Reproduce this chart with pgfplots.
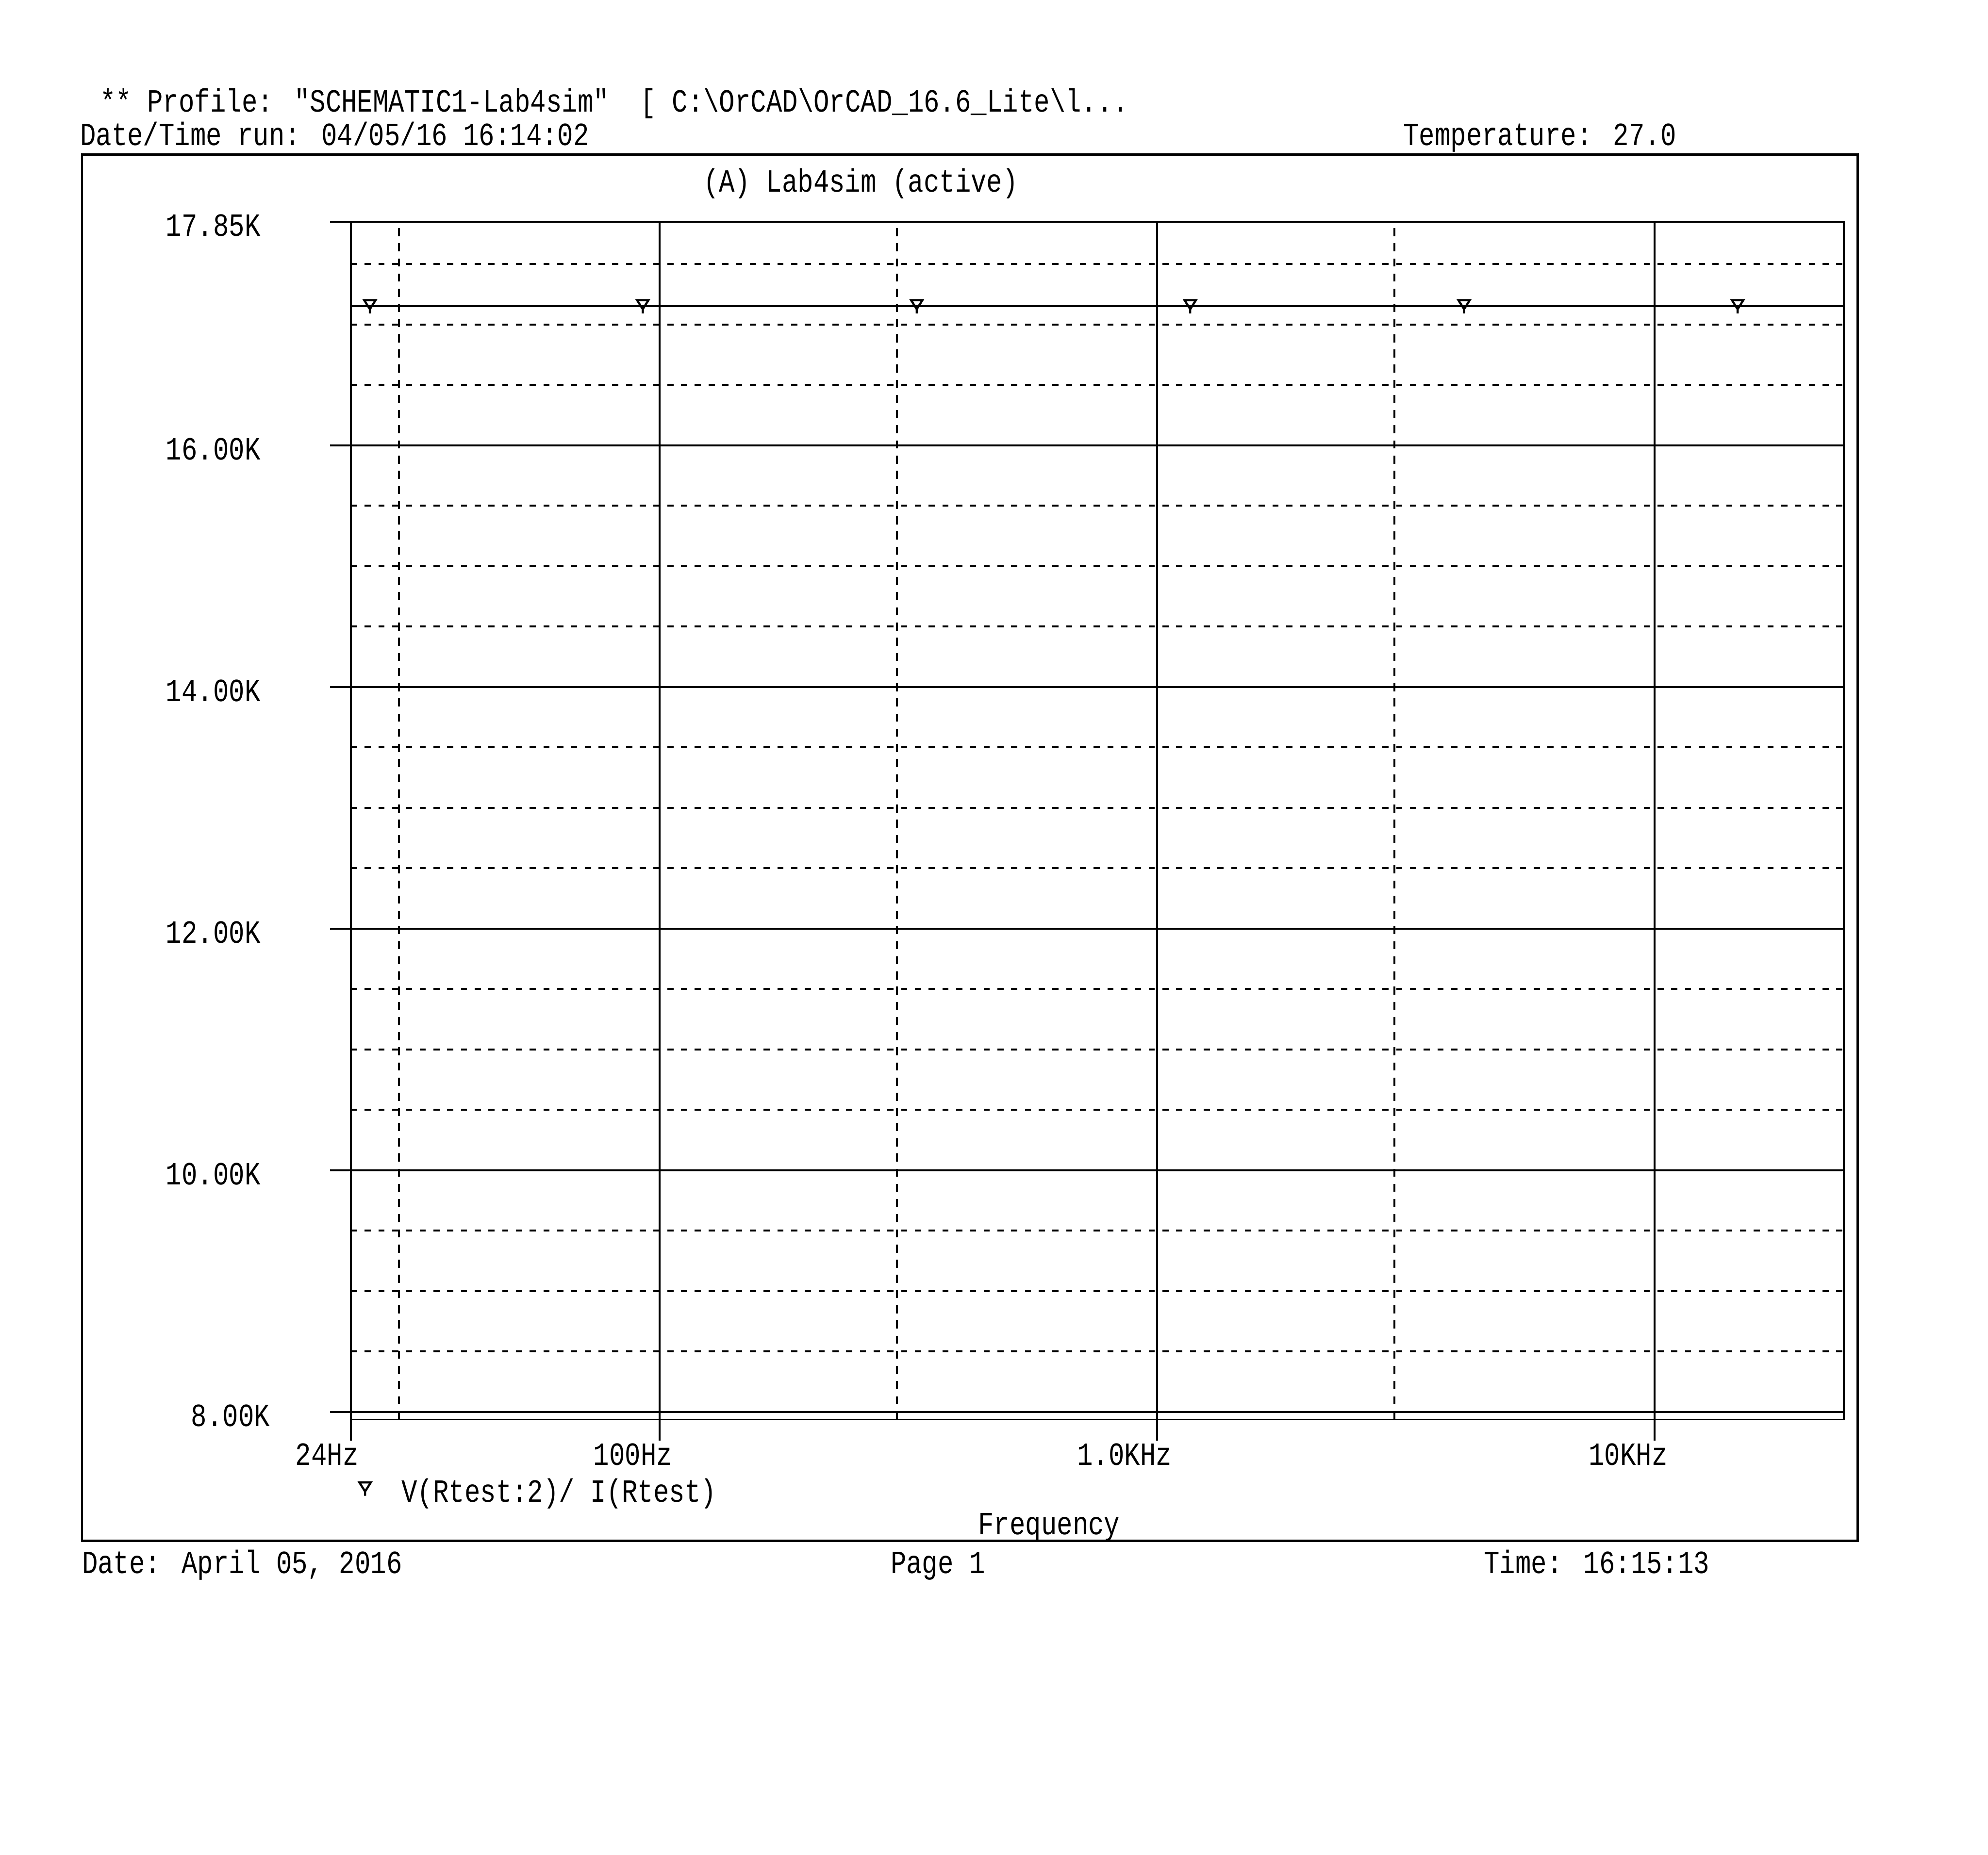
\documentclass[border=0pt]{standalone}
\usepackage{fontspec}
\usepackage{pgfplots}
\pgfplotsset{compat=1.18}
\newfontfamily\orcfam[FakeStretch=0.81]{Liberation Mono}
\newcommand\of{\fontsize{6.83pt}{8pt}\selectfont\orcfam}
\pgfdeclareplotmark{orcad}{%
  \pgfpathmoveto{\pgfqpoint{-1.2pt}{1.3pt}}%
  \pgfpathlineto{\pgfqpoint{1.2pt}{1.3pt}}%
  \pgfpathlineto{\pgfqpoint{0pt}{-0.6pt}}%
  \pgfpathclose
  \pgfpathmoveto{\pgfqpoint{0pt}{-0.6pt}}%
  \pgfpathlineto{\pgfqpoint{0pt}{-1.5pt}}%
  \pgfusepathqstroke}
\begin{document}
\begin{tikzpicture}[every node/.style={font=\of, inner sep=0pt}]
\path[use as bounding box] (0pt,0pt) rectangle (419.2pt,-391.2pt);
\draw[line width=0.45pt] (17.3pt,-32.6pt) rectangle (391.7pt,-325.0pt);
\node[anchor=base west] at (20.9pt,-23.6pt) {** Profile: "SCHEMATIC1-Lab4sim"\ \ [ C:\textbackslash OrCAD\textbackslash OrCAD\_16.6\_Lite\textbackslash l...};
\node[anchor=base west] at (16.7pt,-30.7pt) {Date/Time run: 04/05/16 16:14:02};
\node[anchor=base west] at (295.7pt,-30.7pt) {Temperature: 27.0};
\node[anchor=base] at (181.5pt,-40.5pt) {(A) Lab4sim (active)};
\node[anchor=base] at (221.2pt,-323.7pt) {Frequency};
\node[anchor=base west] at (17.1pt,-331.8pt) {Date: April 05, 2016};
\node[anchor=base west] at (187.6pt,-331.8pt) {Page 1};
\node[anchor=base west] at (312.7pt,-331.8pt) {Time: 16:15:13};
\begin{axis}[
  at={(74pt,-299.4pt)}, anchor=south west,
  scale only axis, width=314.8pt, height=252.63pt,
  xmode=log, xmin=24, xmax=24000, ymin=7.937, ymax=17.85,
  axis line style={line width=0.4pt, black},
  tick style={line width=0.4pt, black},
  tick align=outside, major tick length=4.4pt, minor tick length=0pt,
  xtick pos=bottom, ytick pos=left,
  xtick={24,100,1000,10000},
  xticklabels={24Hz\hspace*{1.1pt},100Hz,1.0KHz\hspace*{-0.4pt},10KHz},
  ytick={8,10,12,14,16,17.85},
  yticklabels={8.00K\hspace*{-2pt},10.00K,12.00K,14.00K,16.00K,17.85K},
  minor xtick={30,300,3000},
  minor ytick={8.5,9,9.5,10.5,11,11.5,12.5,13,13.5,14.5,15,15.5,16.5,17,17.5},
  grid=both,
  major grid style={line width=0.4pt, black},
  minor x grid style={line width=0.4pt, black, dash pattern=on 1.7pt off 1.5pt},
  minor y grid style={line width=0.4pt, black, dash pattern=on 1.3pt off 1.6pt},
  tick label style={font=\of, inner sep=0pt},
  xticklabel style={anchor=north east, xshift=2.9pt, yshift=-0.5pt},
  yticklabel style={anchor=east, xshift=-14.5pt, yshift=-0.8pt},
  legend style={draw=none, fill=none, font=\of, at={(axis description cs:-0.0045,-0.0619)}, anchor=west, nodes={inner sep=0pt}},
  legend cell align=left,
  legend image code/.code={\draw[#1] plot coordinates {(0pt,1.06pt)};},
]
\addplot[line width=0.4pt, black, forget plot] coordinates {(24,17.15) (24000,17.15)};
\addplot[only marks, mark=orcad, mark options={line width=0.45pt, black}] coordinates {
  (26.2,17.15) (92.6,17.15) (329,17.15) (1166,17.15) (4140,17.15) (14680,17.15)};
\addlegendentry{\hspace*{6.5pt}V(Rtest:2)/ I(Rtest)}
\end{axis}
\end{tikzpicture}
\end{document}
